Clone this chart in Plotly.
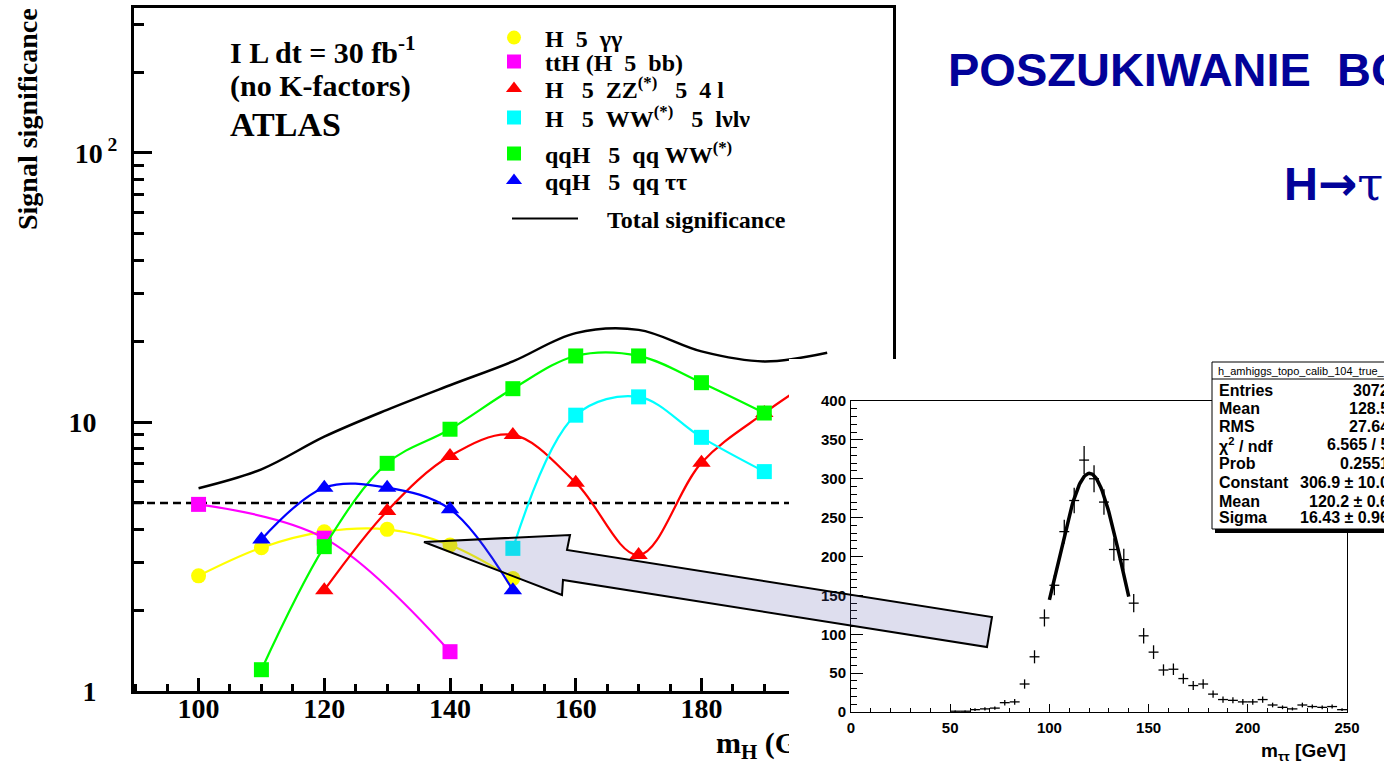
import math
import plotly.graph_objects as go

W, H = 1384, 766

# ---------------- main chart: ATLAS signal significance (30 fb^-1) ----------------
mh_gg = [100, 110, 120, 130, 140, 150]
sig_gg = [2.68, 3.41, 3.91, 3.99, 3.49, 2.62]

mh_tth = [100, 120, 140]
sig_tth = [4.94, 3.70, 1.40]

mh_zz = [120, 130, 140, 150, 160, 170, 180, 190, 200]
sig_zz = [2.37, 4.67, 7.47, 8.95, 5.95, 3.20, 7.06, 10.8, 15.5]

mh_ww = [150, 160, 170, 180, 190]
sig_ww = [3.39, 10.6, 12.4, 8.77, 6.54]

mh_qqww = [110, 120, 130, 140, 150, 160, 170, 180, 190]
sig_qqww = [1.20, 3.44, 7.02, 9.40, 13.3, 17.6, 17.6, 14.0, 10.8]

mh_qqtt = [110, 120, 130, 140, 150]
sig_qqtt = [3.66, 5.70, 5.70, 4.74, 2.37]

mh_tot = [100, 110, 120, 130, 140, 150, 160, 170, 180, 190, 200]
sig_tot = [5.67, 6.67, 8.82, 11.1, 13.7, 16.8, 21.4, 22.0, 18.3, 16.8, 18.1]

discovery_threshold = 5

main_xticks = [100, 120, 140, 160, 180]
main_yticks = [1, 10, 100]
main_yticktext = ["1\u00a0\u00a0\u00a0", "10\u00a0\u00a0\u00a0", "10<sup> 2</sup>"]
main_yminor = [2, 3, 4, 5, 6, 7, 8, 9, 20, 30, 40, 50, 60, 70, 80, 90, 200, 300]
main_xtitle = "<b>m<sub>H</sub> (GeV)</b>"

NB = "\u00a0"
legend_names = [
    f"H{NB*2}5{NB*2}γγ",
    f"ttH (H{NB*2}5{NB*2}bb)",
    f"H{NB*3}5{NB*2}ZZ<sup>(*)</sup>{NB*3}5{NB*2}4 l",
    f"H{NB*3}5{NB*2}WW<sup>(*)</sup>{NB*3}5{NB*2}lνlν",
    f"qqH{NB*3}5{NB*2}qq WW<sup>(*)</sup>",
    f"qqH{NB*3}5{NB*2}qq ττ",
    f"{NB*4}Total significance",
]

# ---------------- inset: m_tautau histogram with gaussian fit ----------------
bin_centers = [52.5, 57.5, 62.5, 67.5, 72.5, 77.5, 82.5, 87.5, 92.5, 97.5,
               102.5, 107.5, 112.5, 117.5, 122.5, 127.5, 132.5, 137.5, 142.5, 147.5,
               152.5, 157.5, 162.5, 167.5, 172.5, 177.5, 182.5, 187.5, 192.5, 197.5,
               202.5, 207.5, 212.5, 217.5, 222.5, 227.5, 232.5, 237.5, 242.5, 247.5]
counts = [1, 1, 3, 4, 5, 12, 13, 36, 71, 121,
          163, 232, 272, 324, 300, 270, 209, 196, 140, 98,
          77, 54, 55, 43, 34, 36, 23, 16, 15, 13,
          13, 16, 9, 6, 4, 9, 7, 6, 7, 3]
count_errors = [1.0, 1.0, 1.7, 2.0, 2.2, 3.5, 3.6, 6.0, 8.4, 11.0,
                12.8, 15.2, 16.5, 18.0, 17.3, 16.4, 14.5, 14.0, 11.8, 9.9,
                8.8, 7.3, 7.4, 6.6, 5.8, 6.0, 4.8, 4.0, 3.9, 3.6,
                3.6, 4.0, 3.0, 2.4, 2.0, 3.0, 2.6, 2.4, 2.6, 1.7]
half_bin = 2.5
fit_const, fit_mean, fit_sigma = 306.9, 120.2, 16.43
fit_range = (100, 140)

stats_title = "h_amhiggs_topo_calib_104_true_"
stats_labels = ["Entries", "Mean", "RMS", "χ<sup>2</sup> / ndf", "Prob", "Constant", "Mean", "Sigma"]
stats_values = ["3072", "128.5", "27.64", "6.565 / 5", "0.2551",
                "306.9 ± 10.0", "120.2 ± 0.6", "16.43 ± 0.96"]

SERIF = "Liberation Serif"
SANS = "Liberation Sans"


def px(x):
    return x / W


def py(y):
    return 1 - y / H


fig = go.Figure()

series = [
    (mh_gg, sig_gg, "#ffff00", "circle", 15),
    (mh_tth, sig_tth, "#ff00ff", "square", 15),
    (mh_zz, sig_zz, "#ff0000", "triangle-up", 16),
    (mh_ww, sig_ww, "#00ffff", "square", 15),
    (mh_qqww, sig_qqww, "#00ff00", "square", 15),
    (mh_qqtt, sig_qqtt, "#0000ff", "triangle-up", 16),
]
for (xs, ys, col, sym, sz) in series:
    fig.add_trace(go.Scatter(
        x=xs, y=ys, mode="lines+markers", xaxis="x", yaxis="y",
        line=dict(color=col, width=2.2, shape="spline", smoothing=1.0),
        marker=dict(color=col, symbol=sym, size=sz, line=dict(width=0)),
        showlegend=False, hoverinfo="skip"))

fig.add_trace(go.Scatter(
    x=mh_tot, y=sig_tot, mode="lines", xaxis="x", yaxis="y",
    line=dict(color="black", width=2.5, shape="spline", smoothing=1.0),
    showlegend=False, hoverinfo="skip"))

# legend entries: one single-row legend per entry so the rows sit where the original has them
legend_keys = ["legend", "legend2", "legend3", "legend4", "legend5", "legend6", "legend7"]
for i, ((xs, ys, col, sym, sz), name) in enumerate(zip(series, legend_names[:6])):
    fig.add_trace(go.Scatter(
        x=[None], y=[None], mode="markers", xaxis="x", yaxis="y", name=name,
        legend=legend_keys[i],
        marker=dict(color=col, symbol=sym, size=14, line=dict(width=0))))
fig.add_trace(go.Scatter(
    x=[None], y=[None], mode="lines", xaxis="x", yaxis="y", name=legend_names[6],
    legend=legend_keys[6], line=dict(color="black", width=2)))

# white panel of the inset picture (covers the main chart underneath)
fig.add_trace(go.Scatter(
    x=[0, 1, 1, 0, 0], y=[0, 0, 1, 1, 0], mode="lines", xaxis="x2", yaxis="y2",
    fill="toself", fillcolor="white", line=dict(width=0, color="white"),
    showlegend=False, hoverinfo="skip"))

# inset histogram
fig.add_trace(go.Scatter(
    x=bin_centers, y=counts, mode="markers", xaxis="x3", yaxis="y3",
    marker=dict(size=1, color="black"),
    error_x=dict(type="constant", value=half_bin, width=0, thickness=1.3, color="black"),
    error_y=dict(type="data", array=count_errors, width=0, thickness=1.3, color="black"),
    showlegend=False, hoverinfo="skip"))

fit_x = [fit_range[0] + 0.5 * i for i in range(int((fit_range[1] - fit_range[0]) / 0.5) + 1)]
fit_y = [fit_const * math.exp(-0.5 * ((v - fit_mean) / fit_sigma) ** 2) for v in fit_x]
fig.add_trace(go.Scatter(
    x=fit_x, y=fit_y, mode="lines", xaxis="x3", yaxis="y3",
    line=dict(color="black", width=3.5), showlegend=False, hoverinfo="skip"))

# main x-axis title, clipped where the inset picture begins
fig.add_trace(go.Scatter(
    x=[716], y=[0.5], mode="text", xaxis="x4", yaxis="y4",
    text=[main_xtitle], textposition="middle right",
    textfont=dict(family=SERIF, size=30, color="black"),
    cliponaxis=True, showlegend=False, hoverinfo="skip"))

tickfont_main = dict(family=SERIF, size=28, color="black", weight="bold")
tickfont_inset = dict(family=SANS, size=15, color="black", weight="bold")
legend_font = dict(family=SERIF, size=24, color="black", weight="bold")

legend_rows_y = [38, 62, 89, 118, 154, 181, 219]
legend_layout = {}
for i, key in enumerate(legend_keys):
    if i < 6:
        legend_layout[key] = dict(x=px(483), y=py(legend_rows_y[i]), xanchor="left",
                                  yanchor="middle", bgcolor="rgba(0,0,0,0)", borderwidth=0,
                                  font=legend_font, itemwidth=52)
    else:
        legend_layout[key] = dict(x=px(507), y=py(legend_rows_y[i]), xanchor="left",
                                  yanchor="middle", bgcolor="rgba(0,0,0,0)", borderwidth=0,
                                  font=legend_font, itemwidth=66)

fig.update_layout(
    template="none",
    width=W, height=H, margin=dict(l=0, r=0, t=0, b=0, autoexpand=False),
    paper_bgcolor="white", plot_bgcolor="white",
    showlegend=True,
    xaxis=dict(domain=[px(134), px(893)], range=[89.73, 210.47], anchor="y", automargin=False,
               tickvals=main_xticks, ticks="inside", ticklen=13, tickwidth=3, tickcolor="black",
               showline=True, linewidth=3, linecolor="black", mirror=True,
               showgrid=False, zeroline=False, tickfont=tickfont_main, ticklabelstandoff=-10,
               minor=dict(dtick=5, tick0=0, ticks="inside", ticklen=7, tickwidth=3,
                          tickcolor="black", showgrid=False)),
    yaxis=dict(domain=[py(691), py(8)], type="log", range=[0, 2.539], anchor="x", automargin=False,
               tickvals=main_yticks, ticktext=main_yticktext,
               ticks="inside", ticklen=18, tickwidth=3, tickcolor="black",
               showline=True, linewidth=3, linecolor="black", mirror=True,
               showgrid=False, zeroline=False, tickfont=tickfont_main, ticklabelstandoff=8,
               minor=dict(tickvals=main_yminor, ticks="inside", ticklen=10, tickwidth=3,
                          tickcolor="black", showgrid=False)),
    xaxis2=dict(domain=[px(789), 1], range=[0, 1], anchor="y2", visible=False,
                fixedrange=True, automargin=False),
    yaxis2=dict(domain=[0, py(359)], range=[0, 1], anchor="x2", visible=False,
                fixedrange=True, automargin=False),
    xaxis3=dict(domain=[px(851), px(1347)], range=[0, 250], anchor="y3", automargin=False,
                tickvals=[0, 50, 100, 150, 200, 250], ticks="inside", ticklen=8, tickwidth=1,
                tickcolor="black", showline=True, linewidth=1, linecolor="black", mirror=True,
                showgrid=False, zeroline=False, tickfont=tickfont_inset, ticklabelstandoff=2,
                minor=dict(dtick=10, tick0=0, ticks="inside", ticklen=4, tickwidth=1,
                           tickcolor="black", showgrid=False)),
    yaxis3=dict(domain=[py(712), py(401)], range=[0, 400], anchor="x3", automargin=False,
                tickvals=[0, 50, 100, 150, 200, 250, 300, 350, 400], ticks="inside", ticklen=12,
                tickwidth=1, tickcolor="black", showline=True, linewidth=1, linecolor="black",
                mirror=True, showgrid=False, zeroline=False, tickfont=tickfont_inset,
                ticklabelstandoff=1,
                minor=dict(dtick=10, tick0=0, ticks="inside", ticklen=6, tickwidth=1,
                           tickcolor="black", showgrid=False)),
    xaxis4=dict(domain=[0, px(789)], range=[0, 789], anchor="y4", visible=False,
                fixedrange=True, automargin=False),
    yaxis4=dict(domain=[0, py(724)], range=[0, 1], anchor="x4", visible=False,
                fixedrange=True, automargin=False),
    **legend_layout,
)

# 5-sigma discovery line
fig.add_shape(type="line", xref="x domain", x0=0, x1=1, yref="y",
              y0=discovery_threshold, y1=discovery_threshold, layer="below",
              line=dict(color="black", width=2.5, dash="8px,5px"))

# statistics box (shadow, box, separator)
fig.add_shape(type="rect", xref="paper", yref="paper", x0=px(1215), x1=px(1400),
              y0=py(533), y1=py(365), fillcolor="black", line=dict(width=0), layer="above")
fig.add_shape(type="rect", xref="paper", yref="paper", x0=px(1212), x1=px(1398),
              y0=py(529), y1=py(362), fillcolor="white", line=dict(color="black", width=1),
              layer="above")
fig.add_shape(type="line", xref="paper", yref="paper", x0=px(1212), x1=px(1398),
              y0=py(379), y1=py(379), line=dict(color="black", width=1), layer="above")

# big pointing arrow
arrow_pts = [(424, 542), (570, 535), (567, 550), (992, 617), (987, 647),
             (563, 580), (562, 595)]
path = "M " + " L ".join(f"{px(a):.5f},{py(b):.5f}" for a, b in arrow_pts) + " Z"
fig.add_shape(type="path", xref="paper", yref="paper", path=path,
              fillcolor="rgba(90,90,170,0.2)", line=dict(color="black", width=2),
              layer="above")

ann = []
bold_serif = dict(family=SERIF, color="black", weight="bold")
ann.append(dict(x=px(228), y=py(50), text="I L dt = 30 fb<sup>-1</sup>",
                font=dict(size=30, **bold_serif)))
ann.append(dict(x=px(228), y=py(86), text="(no K-factors)", font=dict(size=30, **bold_serif)))
ann.append(dict(x=px(228), y=py(124), text="ATLAS", font=dict(size=34, **bold_serif)))
ann.append(dict(x=px(946), y=py(69), text=f"POSZUKIWANIE{NB*2}BOZONU HIGGSA",
                font=dict(family=SANS, size=47, color="#020299", weight="bold")))
ann.append(dict(x=px(1282), y=py(184),
                text="H<span style='font-family:DejaVu Sans'>→</span>"
                     "<span style='font-family:DejaVu Serif;font-weight:normal'>ττ</span>",
                font=dict(family=SANS, size=47, color="#020299", weight="bold")))
for a in ann:
    a.update(xref="paper", yref="paper", xanchor="left", yanchor="middle", showarrow=False)

ann.append(dict(x=px(27), y=py(119), text="Signal significance", textangle=-90,
                xref="paper", yref="paper", xanchor="center", yanchor="middle",
                showarrow=False, font=dict(size=28, **bold_serif)))
ann.append(dict(x=px(1348), y=py(752), text="m<sub>ττ</sub> [GeV]", xref="paper", yref="paper",
                xanchor="right", yanchor="middle", showarrow=False,
                font=dict(family=SANS, size=19, color="black", weight="bold")))
ann.append(dict(x=px(1216), y=py(371), text=stats_title, xref="paper",
                yref="paper", xanchor="left", yanchor="middle", showarrow=False,
                font=dict(family=SANS, size=11, color="black")))
row_y = [390, 408.5, 427, 445, 463.5, 482.5, 501.5, 517]
for lab, val, yy in zip(stats_labels, stats_values, row_y):
    ann.append(dict(x=px(1217), y=py(yy), text=lab, xref="paper", yref="paper",
                    xanchor="left", yanchor="middle", showarrow=False,
                    font=dict(family=SANS, size=16, color="black", weight="bold")))
    ann.append(dict(x=px(1391), y=py(yy), text=val, xref="paper", yref="paper",
                    xanchor="right", yanchor="middle", showarrow=False,
                    font=dict(family=SANS, size=16, color="black", weight="bold")))
fig.update_layout(annotations=ann)

fig.write_html("out.html")
